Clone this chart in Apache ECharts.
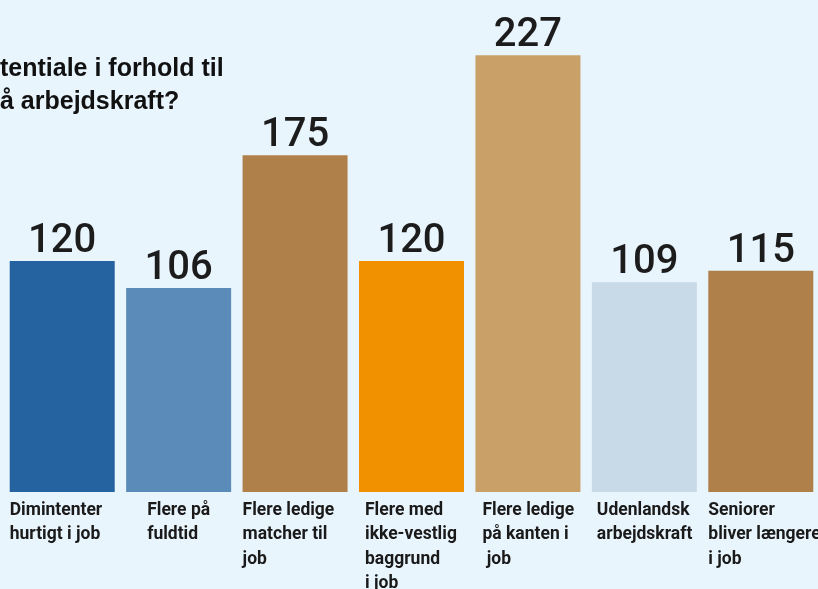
<!DOCTYPE html>
<html>
<head>
<meta charset="utf-8">
<script src="https://cdn.jsdelivr.net/npm/echarts@6/dist/echarts.min.js"></script>
<style>
html,body{margin:0;padding:0;background:#e9f5fd;}
#c{width:818px;height:589px;}
</style>
</head>
<body>
<div id="c"></div>
<script>
var categories = [
  'Dimintenter\nhurtigt i job',
  'Flere på\nfuldtid',
  'Flere ledige\nmatcher til\njob',
  'Flere med\nikke-vestlig\nbaggrund\ni job',
  'Flere ledige\npå kanten i\n job',
  'Udenlandsk\narbejdskraft',
  'Seniorer\nbliver længere\ni job'
];
var values = [120, 106, 175, 120, 227, 109, 115];
var barColors = ['#2462a0', '#5b8bb8', '#b0804b', '#f19100', '#c9a068', '#c8d9e7', '#b0804b'];
var titleText = 'tentiale i forhold til\nå arbejdskraft?';

var labelIndent = [0, 21, 0, 6, 7, 5, 0];
var rich = {};
labelIndent.forEach(function (p, i) {
  rich['c' + i] = {
    align: 'left',
    padding: [0, 0, 0, p],
    fontFamily: 'Roboto, sans-serif',
    fontWeight: 'bold',
    fontSize: 17.5,
    lineHeight: 24.5,
    color: '#1a1a1a'
  };
});

var chart = echarts.init(document.getElementById('c'));
chart.setOption({
  backgroundColor: '#e9f5fd',
  animation: false,
  title: {
    text: titleText,
    left: 0,
    top: 53,
    padding: 0,
    textStyle: {
      fontFamily: 'Liberation Sans',
      fontWeight: 'bold',
      fontSize: 25,
      lineHeight: 33,
      color: '#111'
    }
  },
  grid: { left: 4, width: 815, top: 11, bottom: 97, containLabel: false, outerBoundsMode: 'none' },
  xAxis: {
    type: 'category',
    data: categories,
    axisLine: { show: false },
    axisTick: { show: false },
    axisLabel: {
      interval: 0,
      margin: 6,
      align: 'center',
      width: 105,
      overflow: 'none',
      hideOverlap: false,
      formatter: function (v, idx) {
        return v.split('\n').map(function (l) { return '{c' + idx + '|' + l + '}'; }).join('\n');
      },
      rich: rich
    }
  },
  yAxis: {
    type: 'value',
    min: 0,
    max: 250,
    show: false,
    splitLine: { show: false }
  },
  series: [{
    type: 'bar',
    data: values.map(function (v, i) { return { value: v, itemStyle: { color: barColors[i] } }; }),
    barWidth: 105,
    label: {
      show: true,
      position: 'top',
      distance: -1,
      fontFamily: 'Roboto',
      fontWeight: 500,
      fontSize: 40,
      color: '#1c1c1c'
    }
  }]
});
</script>
</body>
</html>
